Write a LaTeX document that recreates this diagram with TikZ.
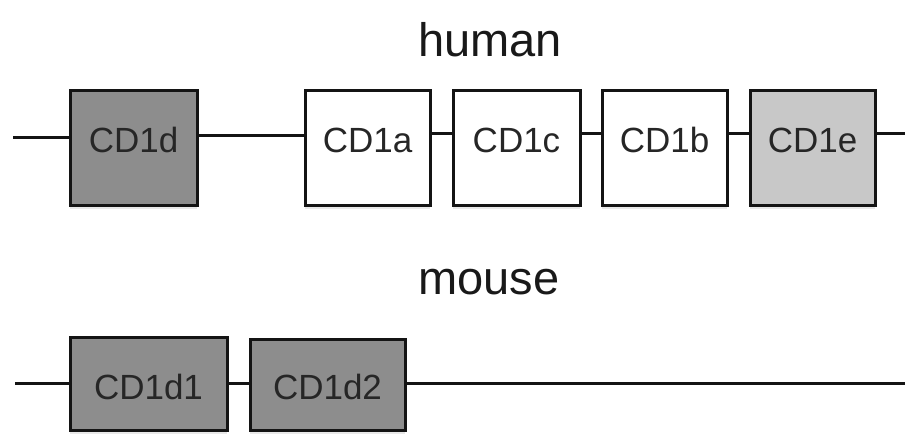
\documentclass[tikz,border=0pt]{standalone}
\usepackage{fontspec}
\setmainfont{Liberation Sans}
\usetikzlibrary{shadows}
\definecolor{darkgene}{RGB}{141,141,141}
\definecolor{lightgene}{RGB}{200,200,200}
\definecolor{inkline}{RGB}{20,20,20}
\tikzset{
  gene/.style={draw=inkline, line width=3pt, rectangle, inner sep=0pt,
    drop shadow={shadow xshift=0pt, shadow yshift=-4pt, opacity=0.18}},
  genelabel/.style={font=\fontsize{35}{40}\selectfont, text=black!85, inner sep=0pt},
  species/.style={font=\fontsize{47}{54}\selectfont, text=black!90, inner sep=0pt},
  chrom/.style={draw=inkline, line width=3pt}
}
\begin{document}
\begin{tikzpicture}[x=1pt, y=-1pt]
  \useasboundingbox (0,0) rectangle (905,434);

  % species headings
  \node[species] (human) at (490,40) {human};
  \node[species] (mouse) at (489,282) {mouse};

  % chromosome line positions
  \coordinate (hL) at (13,137);
  \coordinate (hA) at (250,135);
  \coordinate (hR) at (905,133);
  \coordinate (mL) at (15,383);
  \coordinate (mR) at (905,383);

  % human CD1 locus
  \node[gene, fill=darkgene, minimum width=127pt, minimum height=115pt] (CD1d) at (133.5,147.5) {};
  \node[gene, fill=white, minimum width=125pt, minimum height=115pt] (CD1a) at (367.5,147.5) {};
  \node[gene, fill=white, minimum width=127pt, minimum height=115pt] (CD1c) at (516.5,147.5) {};
  \node[gene, fill=white, minimum width=125pt, minimum height=115pt] (CD1b) at (664.5,147.5) {};
  \node[gene, fill=lightgene, minimum width=125pt, minimum height=115pt] (CD1e) at (812.5,147.5) {};

  \node[genelabel] (tCD1d) at (133.5,140) {CD1d};
  \node[genelabel] (tCD1a) at (367.5,140) {CD1a};
  \node[genelabel] (tCD1c) at (516.5,140) {CD1c};
  \node[genelabel] (tCD1b) at (664.5,140) {CD1b};
  \node[genelabel] (tCD1e) at (812.5,140) {CD1e};

  \draw[chrom] (hL) -- (hL -| CD1d.west);
  \draw[chrom] (hA -| CD1d.east) -- (hA -| CD1a.west);
  \draw[chrom] (hR -| CD1a.east) -- (hR -| CD1c.west);
  \draw[chrom] (hR -| CD1c.east) -- (hR -| CD1b.west);
  \draw[chrom] (hR -| CD1b.east) -- (hR -| CD1e.west);
  \draw[chrom] (hR -| CD1e.east) -- (hR);

  % mouse CD1 locus
  \node[gene, fill=darkgene, minimum width=157pt, minimum height=93pt] (CD1d1) at (148.5,383.5) {};
  \node[gene, fill=darkgene, minimum width=155pt, minimum height=91pt] (CD1d2) at (327.5,384.5) {};

  \node[genelabel] (tCD1d1) at (148.5,387) {CD1d1};
  \node[genelabel] (tCD1d2) at (327.5,387) {CD1d2};

  \draw[chrom] (mL) -- (mL -| CD1d1.west);
  \draw[chrom] (mL -| CD1d1.east) -- (mL -| CD1d2.west);
  \draw[chrom] (mR -| CD1d2.east) -- (mR);
\end{tikzpicture}
\end{document}
